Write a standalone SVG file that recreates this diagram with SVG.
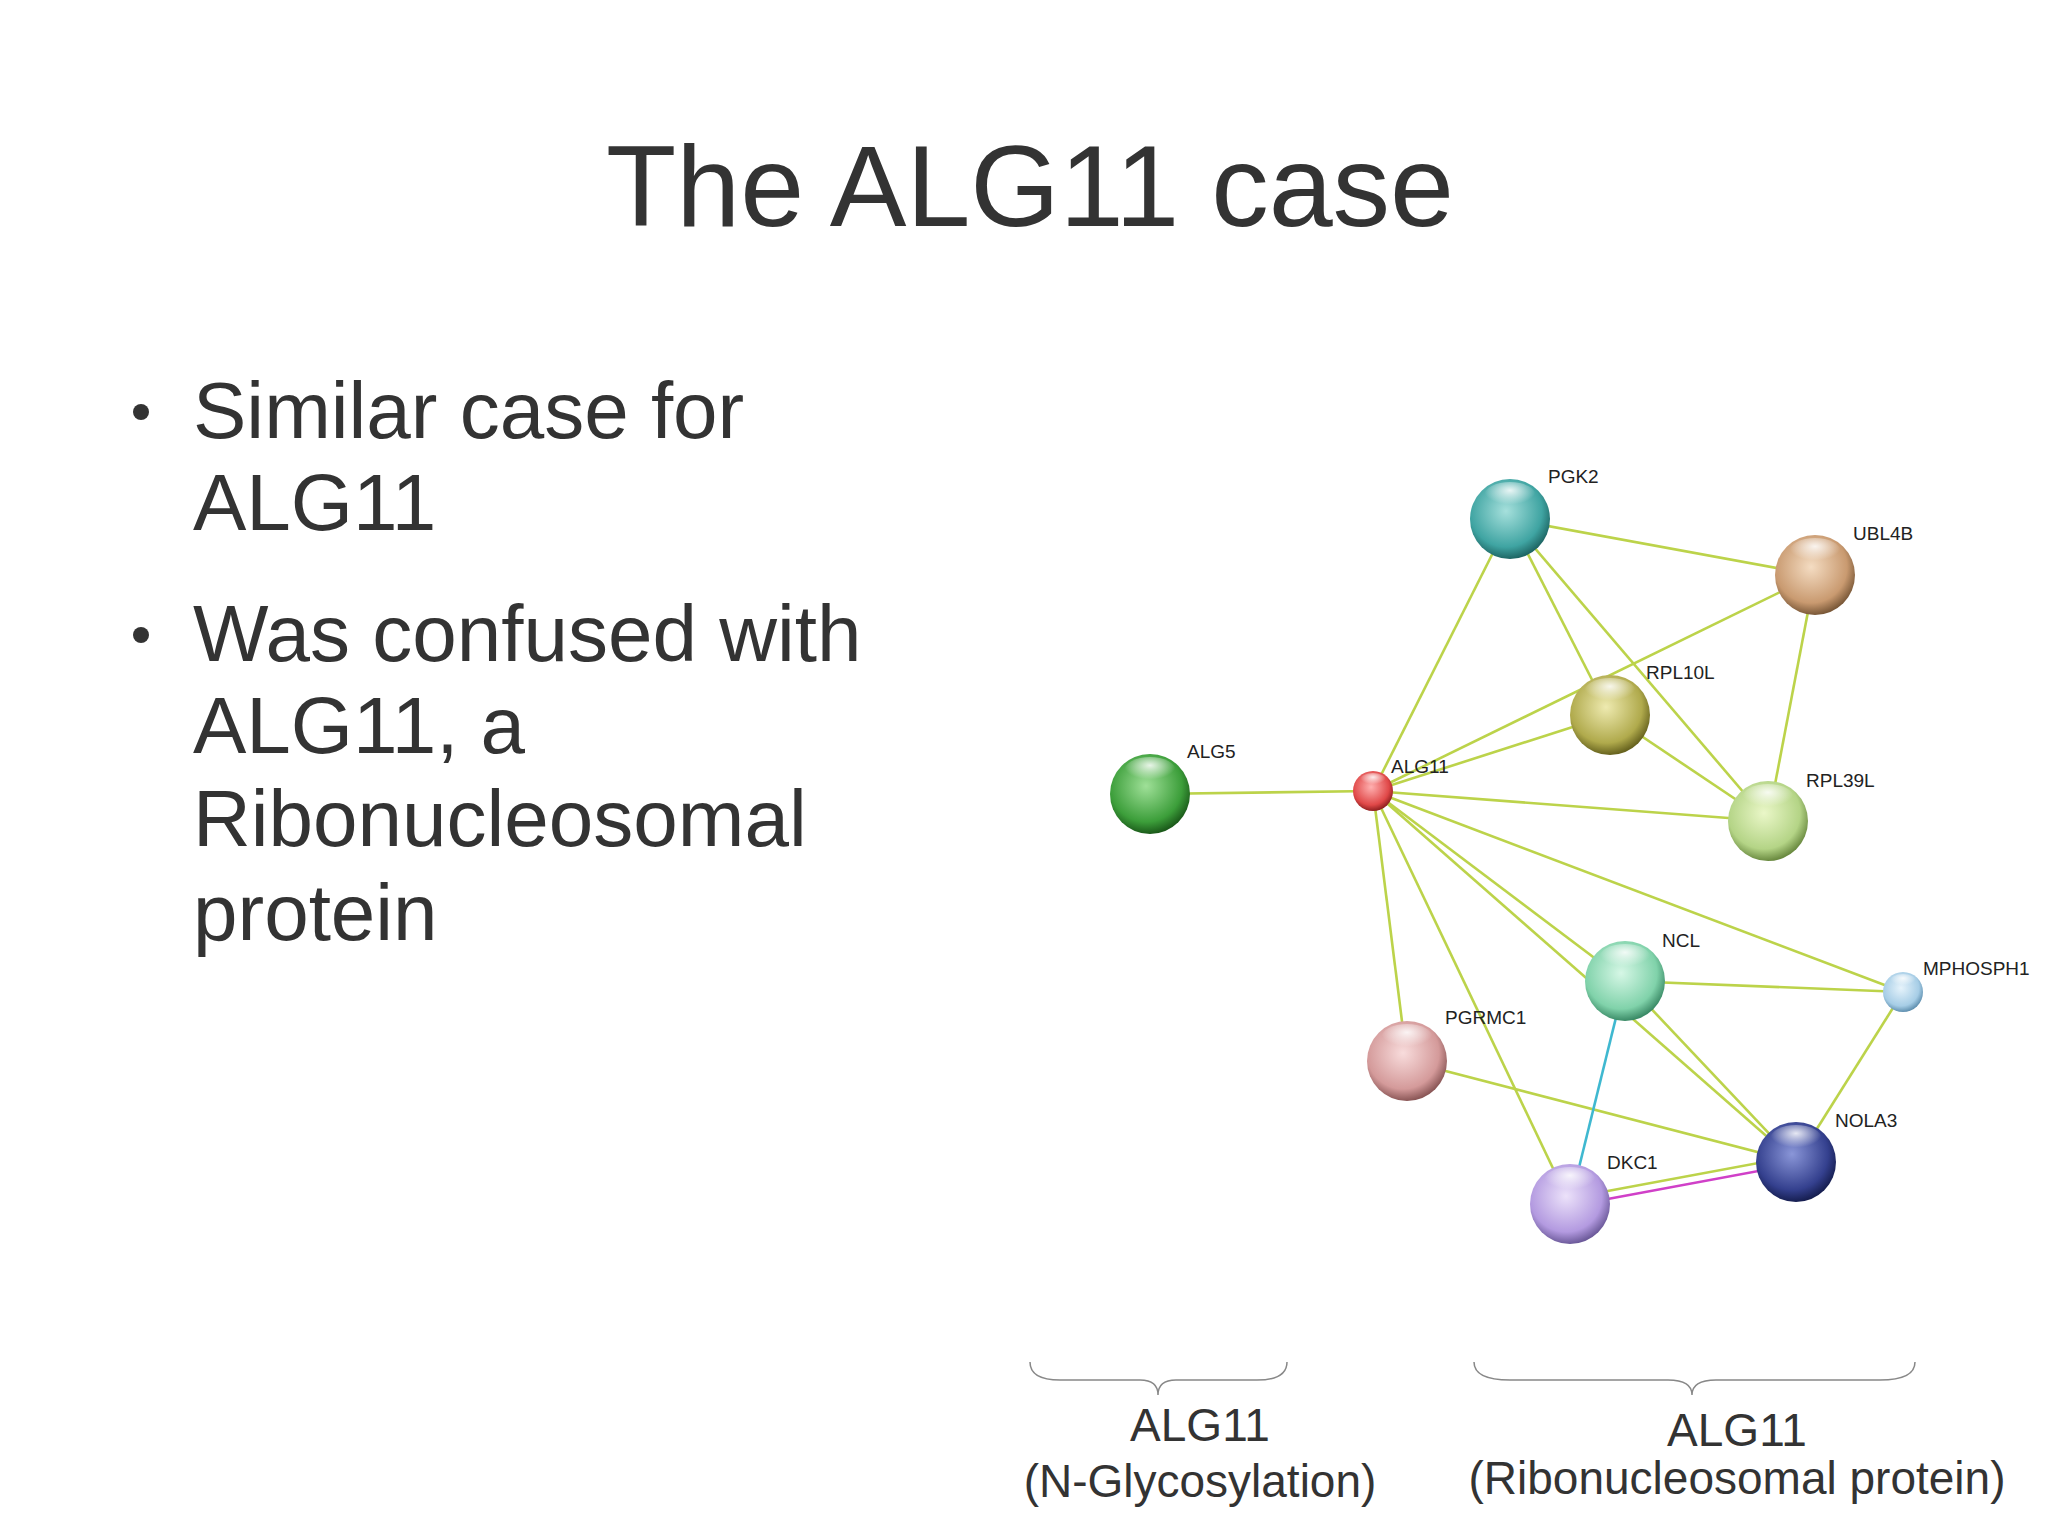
<svg xmlns="http://www.w3.org/2000/svg" width="2048" height="1535" viewBox="0 0 2048 1535">
<style>
text{font-family:"Liberation Sans",Arial,sans-serif;fill:#333}
.lbl{font-size:19px;fill:#222}
.e{stroke:#bcd34a;stroke-width:2.6;fill:none}
.br{stroke:#888;stroke-width:1.5;fill:none}
.hl{fill:url(#hl)}
</style>
<defs>
<radialGradient id="hl" cx="0.5" cy="0.3" r="0.5"><stop offset="0" stop-color="#fff" stop-opacity="0.85"/><stop offset="1" stop-color="#fff" stop-opacity="0"/></radialGradient>
<radialGradient id="gTeal" cx="0.45" cy="0.4" r="0.6"><stop offset="0" stop-color="#a6e0dc"/><stop offset="0.75" stop-color="#3fa4a2"/><stop offset="1" stop-color="#1e6664"/></radialGradient>
<radialGradient id="gTan" cx="0.45" cy="0.4" r="0.6"><stop offset="0" stop-color="#f4dcc2"/><stop offset="0.75" stop-color="#c99a70"/><stop offset="1" stop-color="#7a5838"/></radialGradient>
<radialGradient id="gOlive" cx="0.45" cy="0.4" r="0.6"><stop offset="0" stop-color="#eeeab0"/><stop offset="0.75" stop-color="#b0aa4c"/><stop offset="1" stop-color="#66621e"/></radialGradient>
<radialGradient id="gGreen" cx="0.45" cy="0.4" r="0.6"><stop offset="0" stop-color="#9fe098"/><stop offset="0.75" stop-color="#3c9e3a"/><stop offset="1" stop-color="#1b5a1a"/></radialGradient>
<radialGradient id="gRed" cx="0.45" cy="0.4" r="0.6"><stop offset="0" stop-color="#ffb0b0"/><stop offset="0.75" stop-color="#e04848"/><stop offset="1" stop-color="#902020"/></radialGradient>
<radialGradient id="gLime" cx="0.45" cy="0.4" r="0.6"><stop offset="0" stop-color="#eaf7c8"/><stop offset="0.75" stop-color="#b4d486"/><stop offset="1" stop-color="#6a8a40"/></radialGradient>
<radialGradient id="gMint" cx="0.45" cy="0.4" r="0.6"><stop offset="0" stop-color="#d6f7e6"/><stop offset="0.75" stop-color="#80d2aa"/><stop offset="1" stop-color="#3a8a66"/></radialGradient>
<radialGradient id="gSky" cx="0.45" cy="0.4" r="0.6"><stop offset="0" stop-color="#e6f3fb"/><stop offset="0.75" stop-color="#a6cde6"/><stop offset="1" stop-color="#6090b0"/></radialGradient>
<radialGradient id="gRose" cx="0.45" cy="0.4" r="0.6"><stop offset="0" stop-color="#f8dcdc"/><stop offset="0.75" stop-color="#d49a9a"/><stop offset="1" stop-color="#8a5656"/></radialGradient>
<radialGradient id="gNavy" cx="0.45" cy="0.4" r="0.6"><stop offset="0" stop-color="#8a96d8"/><stop offset="0.75" stop-color="#34408e"/><stop offset="1" stop-color="#161e50"/></radialGradient>
<radialGradient id="gLav" cx="0.45" cy="0.4" r="0.6"><stop offset="0" stop-color="#ece2fa"/><stop offset="0.75" stop-color="#b39ae0"/><stop offset="1" stop-color="#6c5a9a"/></radialGradient>
</defs>
<rect width="2048" height="1535" fill="#fff"/>
<text x="1030" y="226" font-size="115" text-anchor="middle">The ALG11 case</text>
<g id="bullets" font-size="80">
<circle cx="141" cy="412" r="8" fill="#333"/>
<text x="193" y="438">Similar case for</text>
<text x="193" y="530">ALG11</text>
<circle cx="141" cy="635" r="8" fill="#333"/>
<text x="193" y="661">Was confused with</text>
<text x="193" y="753">ALG11, a</text>
<text x="193" y="846">Ribonucleosomal</text>
<text x="193" y="940">protein</text>
</g>
<g id="edges">
<line class="e" x1="1510" y1="519" x2="1815" y2="575"/>
<line class="e" x1="1510" y1="519" x2="1373" y2="791"/>
<line class="e" x1="1510" y1="519" x2="1610" y2="715"/>
<line class="e" x1="1510" y1="519" x2="1768" y2="821"/>
<line class="e" x1="1815" y1="575" x2="1373" y2="791"/>
<line class="e" x1="1815" y1="575" x2="1768" y2="821"/>
<line class="e" x1="1610" y1="715" x2="1373" y2="791"/>
<line class="e" x1="1610" y1="715" x2="1768" y2="821"/>
<line class="e" x1="1150" y1="794" x2="1373" y2="791"/>
<line class="e" x1="1373" y1="791" x2="1768" y2="821"/>
<line class="e" x1="1373" y1="791" x2="1903" y2="992"/>
<line class="e" x1="1373" y1="791" x2="1625" y2="981"/>
<line class="e" x1="1373" y1="791" x2="1796" y2="1162"/>
<line class="e" x1="1373" y1="791" x2="1407" y2="1061"/>
<line class="e" x1="1373" y1="791" x2="1570" y2="1204"/>
<line class="e" x1="1625" y1="981" x2="1903" y2="992"/>
<line class="e" x1="1625" y1="981" x2="1796" y2="1162"/>
<line class="e" x1="1903" y1="992" x2="1796" y2="1162"/>
<line class="e" x1="1407" y1="1061" x2="1796" y2="1162"/>
<line class="e" x1="1570" y1="1198" x2="1796" y2="1156"/>
<line x1="1625" y1="981" x2="1570" y2="1204" stroke="#3fb8d0" stroke-width="2.6"/>
<line x1="1570" y1="1206" x2="1796" y2="1164" stroke="#d040c8" stroke-width="2.6"/>
</g>
<g id="PGK2"><circle cx="1510" cy="519" r="40" fill="url(#gTeal)"/><ellipse class="hl" cx="1510" cy="496" rx="26" ry="14"/><text class="lbl" x="1548" y="483">PGK2</text></g>
<g id="UBL4B"><circle cx="1815" cy="575" r="40" fill="url(#gTan)"/><ellipse class="hl" cx="1815" cy="552" rx="26" ry="14"/><text class="lbl" x="1853" y="540">UBL4B</text></g>
<g id="RPL10L"><circle cx="1610" cy="715" r="40" fill="url(#gOlive)"/><ellipse class="hl" cx="1610" cy="692" rx="26" ry="14"/><text class="lbl" x="1646" y="679">RPL10L</text></g>
<g id="ALG5"><circle cx="1150" cy="794" r="40" fill="url(#gGreen)"/><ellipse class="hl" cx="1150" cy="771" rx="26" ry="14"/><text class="lbl" x="1187" y="758">ALG5</text></g>
<g id="ALG11"><circle cx="1373" cy="791" r="20" fill="url(#gRed)"/><ellipse class="hl" cx="1373" cy="780" rx="13" ry="7"/><text class="lbl" x="1391" y="773">ALG11</text></g>
<g id="RPL39L"><circle cx="1768" cy="821" r="40" fill="url(#gLime)"/><ellipse class="hl" cx="1768" cy="798" rx="26" ry="14"/><text class="lbl" x="1806" y="787">RPL39L</text></g>
<g id="NCL"><circle cx="1625" cy="981" r="40" fill="url(#gMint)"/><ellipse class="hl" cx="1625" cy="958" rx="26" ry="14"/><text class="lbl" x="1662" y="947">NCL</text></g>
<g id="MPHOSPH1"><circle cx="1903" cy="992" r="20" fill="url(#gSky)"/><ellipse class="hl" cx="1903" cy="981" rx="13" ry="7"/><text class="lbl" x="1923" y="975">MPHOSPH1</text></g>
<g id="PGRMC1"><circle cx="1407" cy="1061" r="40" fill="url(#gRose)"/><ellipse class="hl" cx="1407" cy="1038" rx="26" ry="14"/><text class="lbl" x="1445" y="1024">PGRMC1</text></g>
<g id="NOLA3"><circle cx="1796" cy="1162" r="40" fill="url(#gNavy)"/><ellipse class="hl" cx="1796" cy="1139" rx="26" ry="14"/><text class="lbl" x="1835" y="1127">NOLA3</text></g>
<g id="DKC1"><circle cx="1570" cy="1204" r="40" fill="url(#gLav)"/><ellipse class="hl" cx="1570" cy="1181" rx="26" ry="14"/><text class="lbl" x="1607" y="1169">DKC1</text></g>
<g id="braces">
<path class="br" d="M1030 1362 Q1030 1380 1060 1380 L1140 1380 Q1158 1380 1158 1395 Q1158 1380 1176 1380 L1257 1380 Q1287 1380 1287 1362"/>
<path class="br" d="M1474 1362 Q1474 1380 1510 1380 L1668 1380 Q1692 1380 1692 1395 Q1692 1380 1716 1380 L1880 1380 Q1915 1380 1915 1362"/>
</g>
<g font-size="46" text-anchor="middle">
<text x="1200" y="1441">ALG11</text>
<text x="1200" y="1497">(N-Glycosylation)</text>
<text x="1737" y="1446">ALG11</text>
<text x="1737" y="1494">(Ribonucleosomal protein)</text>
</g>
</svg>
